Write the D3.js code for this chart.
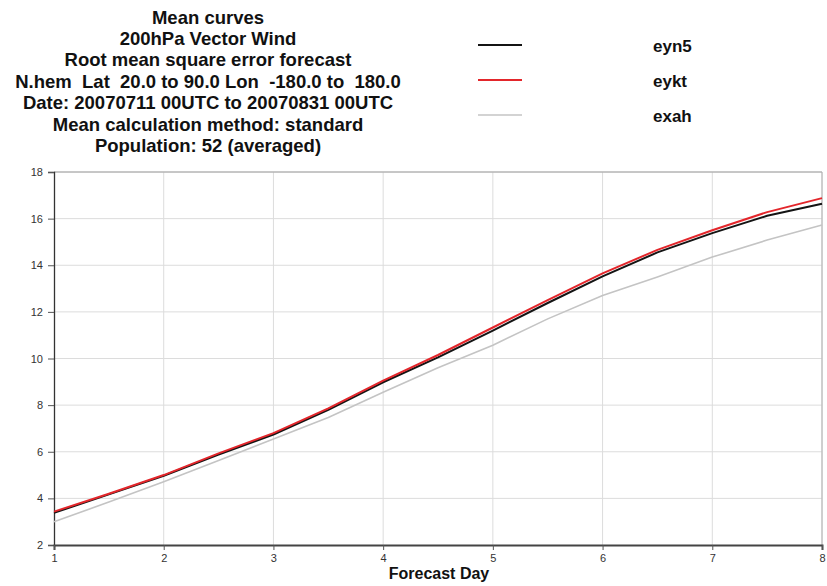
<!DOCTYPE html>
<html><head><meta charset="utf-8">
<script src="https://cdn.jsdelivr.net/npm/d3@7"></script>
<style>body{margin:0;background:#fff}svg{display:block}text{font-family:"Liberation Sans",Arial,sans-serif}</style>
</head><body><svg id="c" width="827" height="586"></svg>
<script>
const titleLines = ["Mean curves","200hPa Vector Wind","Root mean square error forecast","N.hem  Lat  20.0 to 90.0 Lon  -180.0 to  180.0","Date: 20070711 00UTC to 20070831 00UTC","Mean calculation method: standard","Population: 52 (averaged)"];
const days = [1,1.5,2,2.5,3,3.5,4,4.5,5,5.5,6,6.5,7,7.5,8];
const eyn5 = [3.38,4.17,4.97,5.88,6.74,7.8,8.98,10.05,11.2,12.38,13.52,14.55,15.38,16.12,16.64];
const eykt = [3.43,4.2,5.0,5.93,6.8,7.86,9.05,10.15,11.33,12.5,13.65,14.66,15.5,16.28,16.88];
const exah = [3.0,3.84,4.71,5.62,6.55,7.47,8.55,9.6,10.57,11.7,12.7,13.5,14.35,15.08,15.73];
const xTicks = [1,2,3,4,5,6,7,8];
const yTicks = [2,4,6,8,10,12,14,16,18];
const seriesNames = ["eyn5","eykt","exah"];
const seriesColors = ["#141414","#e3262b","#c4c4c4"];
const seriesWidths = [2,2,1.6];
const seriesData = [eyn5,eykt,exah];

const svg = d3.select("#c");
const L=54,R=822,T=172,B=545;
const x = d3.scaleLinear().domain([1,8]).range([L,R]);
const y = d3.scaleLinear().domain([2,18]).range([B,T]);

// grid
svg.append("g").selectAll("line").data(yTicks.slice(1)).join("line")
  .attr("x1",L).attr("x2",R).attr("y1",d=>y(d)).attr("y2",d=>y(d))
  .attr("stroke","#dcdcdc").attr("stroke-width",1);
svg.append("g").selectAll("line").data(xTicks.slice(1)).join("line")
  .attr("y1",T).attr("y2",B).attr("x1",d=>x(d)).attr("x2",d=>x(d))
  .attr("stroke","#dcdcdc").attr("stroke-width",1);
// frame top/right
svg.append("line").attr("x1",L).attr("x2",R).attr("y1",T).attr("y2",T).attr("stroke","#a0a0a0").attr("stroke-width",1.2);
svg.append("line").attr("x1",R).attr("x2",R).attr("y1",T).attr("y2",B).attr("stroke","#b0b0b0").attr("stroke-width",1);

// axes
const yAxis = svg.append("g").attr("transform",`translate(${L},0)`)
  .call(d3.axisLeft(y).tickValues(yTicks).tickSize(6).tickPadding(5).tickFormat(d3.format("d")));
yAxis.select(".domain").attr("stroke","#333").attr("stroke-width",1.3);
yAxis.selectAll(".tick line").attr("stroke","#555");
yAxis.selectAll("text").attr("font-size",11).attr("fill","#333");

const xAxis = svg.append("g").attr("transform",`translate(0,${B})`)
  .call(d3.axisBottom(x).tickValues(xTicks).tickSize(5).tickPadding(4).tickFormat(d3.format("d")));
xAxis.select(".domain").attr("stroke","#444").attr("stroke-width",2);
xAxis.selectAll(".tick line").attr("stroke","#555");
xAxis.selectAll("text").attr("font-size",11).attr("fill","#333");

svg.append("text").attr("x",439).attr("y",579).attr("text-anchor","middle")
  .attr("font-size",16).attr("font-weight","bold").attr("fill","#111").text("Forecast Day");

// lines
const line = d3.line().x((d,i)=>x(days[i])).y(d=>y(d));
[2,0,1].forEach(k=>{
  svg.append("path").datum(seriesData[k]).attr("d",line).attr("fill","none")
    .attr("stroke",seriesColors[k]).attr("stroke-width",seriesWidths[k]).attr("stroke-linejoin","round");
});

// title
svg.append("g").selectAll("text").data(titleLines).join("text")
  .attr("x",208).attr("y",(d,i)=>23.5+i*21.4).attr("text-anchor","middle")
  .attr("font-size",18.5).attr("font-weight","bold").attr("fill","#111")
  .attr("xml:space","preserve").style("white-space","pre").text(d=>d);

// legend
const lg = svg.append("g");
seriesNames.forEach((n,i)=>{
  const ly = 45+i*35;
  lg.append("line").attr("x1",478).attr("x2",522).attr("y1",ly).attr("y2",ly)
    .attr("stroke",seriesColors[i]).attr("stroke-width",seriesWidths[i]);
  lg.append("text").attr("x",653).attr("y",ly+6.5).attr("text-anchor","start")
    .attr("font-size",17).attr("font-weight","bold").attr("fill","#111").text(n);
});
</script></body></html>
